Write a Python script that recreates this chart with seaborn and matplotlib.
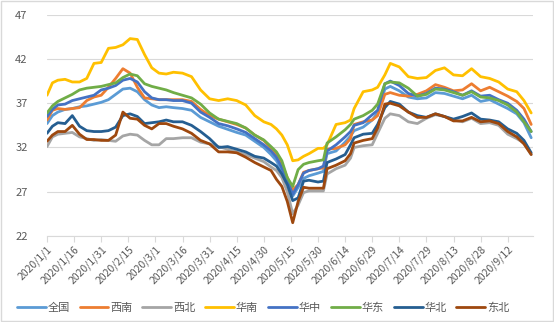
import matplotlib
matplotlib.use("Agg")
import matplotlib.pyplot as plt
import matplotlib.dates as mdates
from matplotlib.ticker import FuncFormatter
from matplotlib.patches import Rectangle
import pandas as pd
import seaborn as sns

# 2020 regional price series (sampled dates)
dates = [
    "2020-01-01", "2020-01-04", "2020-01-07", "2020-01-11", "2020-01-15", "2020-01-19", "2020-01-23", "2020-01-27", "2020-01-31", "2020-02-04",
    "2020-02-08", "2020-02-12", "2020-02-16", "2020-02-20", "2020-02-24", "2020-02-28", "2020-03-03", "2020-03-07", "2020-03-11", "2020-03-16",
    "2020-03-21", "2020-03-26", "2020-03-31", "2020-04-05", "2020-04-10", "2020-04-15", "2020-04-20", "2020-04-25", "2020-04-30", "2020-05-04",
    "2020-05-07", "2020-05-10", "2020-05-13", "2020-05-16", "2020-05-19", "2020-05-22", "2020-05-25", "2020-05-30", "2020-06-02", "2020-06-04",
    "2020-06-09", "2020-06-14", "2020-06-17", "2020-06-19", "2020-06-24", "2020-06-29", "2020-07-02", "2020-07-06", "2020-07-09", "2020-07-14",
    "2020-07-19", "2020-07-24", "2020-07-29", "2020-08-03", "2020-08-08", "2020-08-13", "2020-08-18", "2020-08-23", "2020-08-28", "2020-09-02",
    "2020-09-07", "2020-09-12", "2020-09-17", "2020-09-21", "2020-09-25",
]

quanguo = [
    34.7, 35.6, 36.0, 36.3, 36.4, 36.6, 36.7, 36.9, 37.1, 37.4,
    38.0, 38.6, 38.7, 38.3, 37.4, 36.8, 36.5, 36.6, 36.5, 36.4,
    36.2, 35.4, 34.9, 34.4, 34.05, 33.7, 33.4, 32.7, 32.0, 31.2,
    30.5, 29.4, 28.1, 26.5, 27.5, 28.5, 28.8, 29.1, 29.3, 31.3,
    31.6, 32.6, 33.3, 33.9, 34.3, 35.1, 35.9, 38.6, 38.9, 38.4,
    37.7, 37.5, 37.6, 38.2, 38.1, 37.8, 37.5, 37.9, 37.2, 37.4,
    36.9, 36.4, 35.8, 34.8, 33.1,
]
xinan = [
    35.1, 36.2, 36.4, 36.3, 36.4, 36.5, 37.3, 37.7, 37.9, 38.8,
    39.8, 40.9, 40.4, 38.8, 37.6, 37.5, 37.4, 37.4, 37.4, 37.4,
    37.2, 36.3, 35.6, 35.2, 34.9, 34.6, 34.2, 33.4, 32.8, 31.9,
    31.2, 30.1, 28.6, 27.2, 27.8, 29.2, 29.4, 29.6, 29.7, 31.8,
    31.9, 32.3, 33.0, 34.6, 34.9, 35.1, 35.6, 38.0, 38.2, 37.9,
    37.8, 38.0, 38.4, 39.1, 38.8, 38.4, 38.5, 39.2, 38.4, 38.8,
    38.3, 37.8, 37.2, 36.4, 34.6,
]
xibei = [
    32.1, 33.2, 33.5, 33.6, 33.7, 33.2, 33.0, 32.8, 32.9, 32.8,
    32.7, 33.3, 33.5, 33.4, 32.8, 32.3, 32.3, 33.0, 33.0, 33.1,
    33.1, 32.6, 32.4, 32.1, 31.8, 31.5, 31.2, 30.8, 30.4, 29.8,
    29.4, 28.6, 27.0, 24.5, 25.5, 26.9, 27.1, 27.1, 27.1, 29.0,
    29.6, 30.0, 30.8, 32.0, 32.2, 32.3, 33.6, 35.3, 35.8, 35.6,
    34.9, 34.7, 35.3, 35.7, 35.5, 35.1, 34.9, 35.3, 34.7, 34.8,
    34.5, 33.5, 33.0, 32.5, 31.2,
]
huanan = [
    37.9, 39.3, 39.6, 39.7, 39.4, 39.4, 39.8, 41.5, 41.6, 43.2,
    43.3, 43.6, 44.3, 44.2, 42.5, 41.0, 40.4, 40.3, 40.5, 40.4,
    40.0, 38.5, 37.5, 37.3, 37.5, 37.3, 36.8, 35.6, 34.9, 34.6,
    34.1, 33.4, 32.3, 30.5, 30.6, 31.0, 31.3, 31.9, 31.9, 32.3,
    34.6, 34.8, 35.1, 36.4, 38.3, 38.5, 38.8, 40.2, 41.5, 41.1,
    40.0, 39.8, 39.9, 40.7, 41.0, 40.2, 40.1, 40.9, 40.0, 39.8,
    39.4, 38.6, 38.3, 37.3, 35.9,
]
huazhong = [
    35.5, 36.3, 36.8, 36.9, 37.3, 37.5, 37.7, 37.9, 38.5, 38.7,
    39.0, 39.6, 39.8, 39.4, 38.3, 37.6, 37.4, 37.4, 37.3, 37.3,
    37.0, 36.0, 35.4, 34.7, 34.45, 34.1, 33.7, 33.0, 32.3, 31.6,
    30.9, 29.7, 28.3, 26.7, 27.8, 29.1, 29.4, 29.6, 29.9, 31.6,
    32.3, 33.2, 33.8, 34.5, 34.8, 35.7, 36.2, 39.2, 39.5, 39.0,
    38.1, 37.8, 38.1, 38.7, 38.6, 38.3, 37.9, 38.4, 37.8, 37.9,
    37.4, 37.0, 36.2, 35.2, 33.8,
]
huadong = [
    35.9, 36.7, 37.2, 37.6, 38.0, 38.5, 38.7, 38.8, 38.9, 39.1,
    39.3, 39.9, 40.3, 40.1, 39.2, 38.9, 38.7, 38.5, 38.2, 37.9,
    37.6, 36.9, 35.9, 35.2, 34.95, 34.7, 34.2, 33.4, 32.85, 32.1,
    31.5, 30.5, 28.6, 27.6, 29.5, 30.1, 30.3, 30.5, 30.6, 32.5,
    33.2, 34.0, 34.6, 35.2, 35.6, 36.2, 36.9, 39.2, 39.4, 39.3,
    38.7, 37.8, 38.0, 38.6, 38.5, 38.2, 37.9, 38.3, 37.7, 37.6,
    37.3, 36.8, 36.0, 34.9, 33.8,
]
huabei = [
    33.6, 34.4, 34.8, 34.7, 35.6, 34.4, 33.9, 33.8, 33.8, 33.9,
    34.3, 35.6, 35.8, 35.5, 34.7, 34.8, 34.9, 35.1, 34.9, 34.9,
    34.5, 33.8, 33.0, 32.0, 32.1, 31.8, 31.5, 31.0, 30.8, 30.3,
    29.9, 29.0, 27.8, 26.0, 26.3, 28.2, 28.3, 28.1, 28.2, 30.3,
    30.7, 31.2, 32.3, 33.1, 33.5, 33.6, 34.6, 36.5, 37.2, 36.9,
    36.0, 35.6, 35.4, 35.8, 35.5, 35.2, 35.5, 35.9, 35.2, 35.1,
    34.9, 34.1, 33.6, 32.8, 31.4,
]
dongbei = [
    32.7, 33.4, 33.8, 33.8, 34.5, 33.5, 32.9, 32.9, 32.8, 32.8,
    33.4, 36.0, 35.3, 35.2, 34.5, 34.1, 34.7, 34.7, 34.4, 34.1,
    33.6, 32.8, 32.4, 31.5, 31.5, 31.4, 30.9, 30.3, 29.8, 29.4,
    28.4, 27.6, 25.9, 23.5, 25.9, 27.5, 27.4, 27.4, 27.4, 29.6,
    30.0, 30.5, 31.3, 32.5, 32.8, 33.0, 34.2, 36.9, 37.0, 36.7,
    36.0, 35.4, 35.4, 35.8, 35.5, 35.0, 35.0, 35.4, 34.9, 35.0,
    34.7, 33.8, 33.2, 32.4, 31.2,
]

regions = ["全国", "西南", "西北", "华南", "华中", "华东", "华北", "东北"]
series = [quanguo, xinan, xibei, huanan, huazhong, huadong, huabei, dongbei]
colors = ["#5B9BD5", "#ED7D31", "#A5A5A5", "#FFC000",
          "#4472C4", "#70AD47", "#255E91", "#9E480E"]

frames = [pd.DataFrame({"date": pd.to_datetime(dates), "value": vals, "region": name})
          for name, vals in zip(regions, series)]
df = pd.concat(frames, ignore_index=True)

sns.set_theme(style="white")
plt.rcParams["font.family"] = ["Noto Sans CJK SC", "DejaVu Sans"]

fig = plt.figure(figsize=(5.54, 3.22), dpi=100)
ax = fig.add_axes([47 / 554, 86 / 322, 486 / 554, 221.3 / 322])

sns.lineplot(data=df, x="date", y="value", hue="region", hue_order=regions,
             palette=dict(zip(regions, colors)), linewidth=2.0,
             estimator=None, sort=False, ax=ax)

ax.set_ylim(22, 47)
ax.set_yticks([22, 27, 32, 37, 42, 47])
ax.set_xlim(pd.Timestamp("2020-01-01"), pd.Timestamp("2020-09-26"))
ticks = pd.date_range("2020-01-01", "2020-09-26", freq="15D")
ax.set_xticks(ticks)
ax.xaxis.set_major_formatter(FuncFormatter(
    lambda v, pos: (lambda d: f"{d.year}/{d.month}/{d.day}")(mdates.num2date(v))))

ax.set_xlabel("")
ax.set_ylabel("")
ax.grid(axis="y", color="#D9D9D9", linewidth=0.8)
ax.set_axisbelow(True)
for side in ["top", "right", "left"]:
    ax.spines[side].set_visible(False)
ax.spines["bottom"].set_color("#D9D9D9")
ax.spines["bottom"].set_linewidth(0.8)

ax.tick_params(axis="x", which="major", bottom=True, length=4, width=0.8,
               color="#D9D9D9", labelsize=7.5, labelcolor="#595959", pad=2)
ax.tick_params(axis="y", left=False, labelsize=8, labelcolor="#595959", pad=8)
for lbl in ax.get_xticklabels():
    lbl.set_rotation(45)
    lbl.set_ha("right")
    lbl.set_rotation_mode("anchor")

sns.move_legend(ax, "center", bbox_to_anchor=(263 / 554, 14 / 322),
                bbox_transform=fig.transFigure, ncol=8, frameon=False,
                title=None, fontsize=8, handlelength=2.6, handletextpad=0.15,
                columnspacing=0.9, labelcolor="#595959")

fig.patches.append(Rectangle((0.001, 0.002), 0.997, 0.995, transform=fig.transFigure,
                             fill=False, edgecolor="#D9D9D9", linewidth=1.0))

fig.savefig("out.png", dpi=100)
